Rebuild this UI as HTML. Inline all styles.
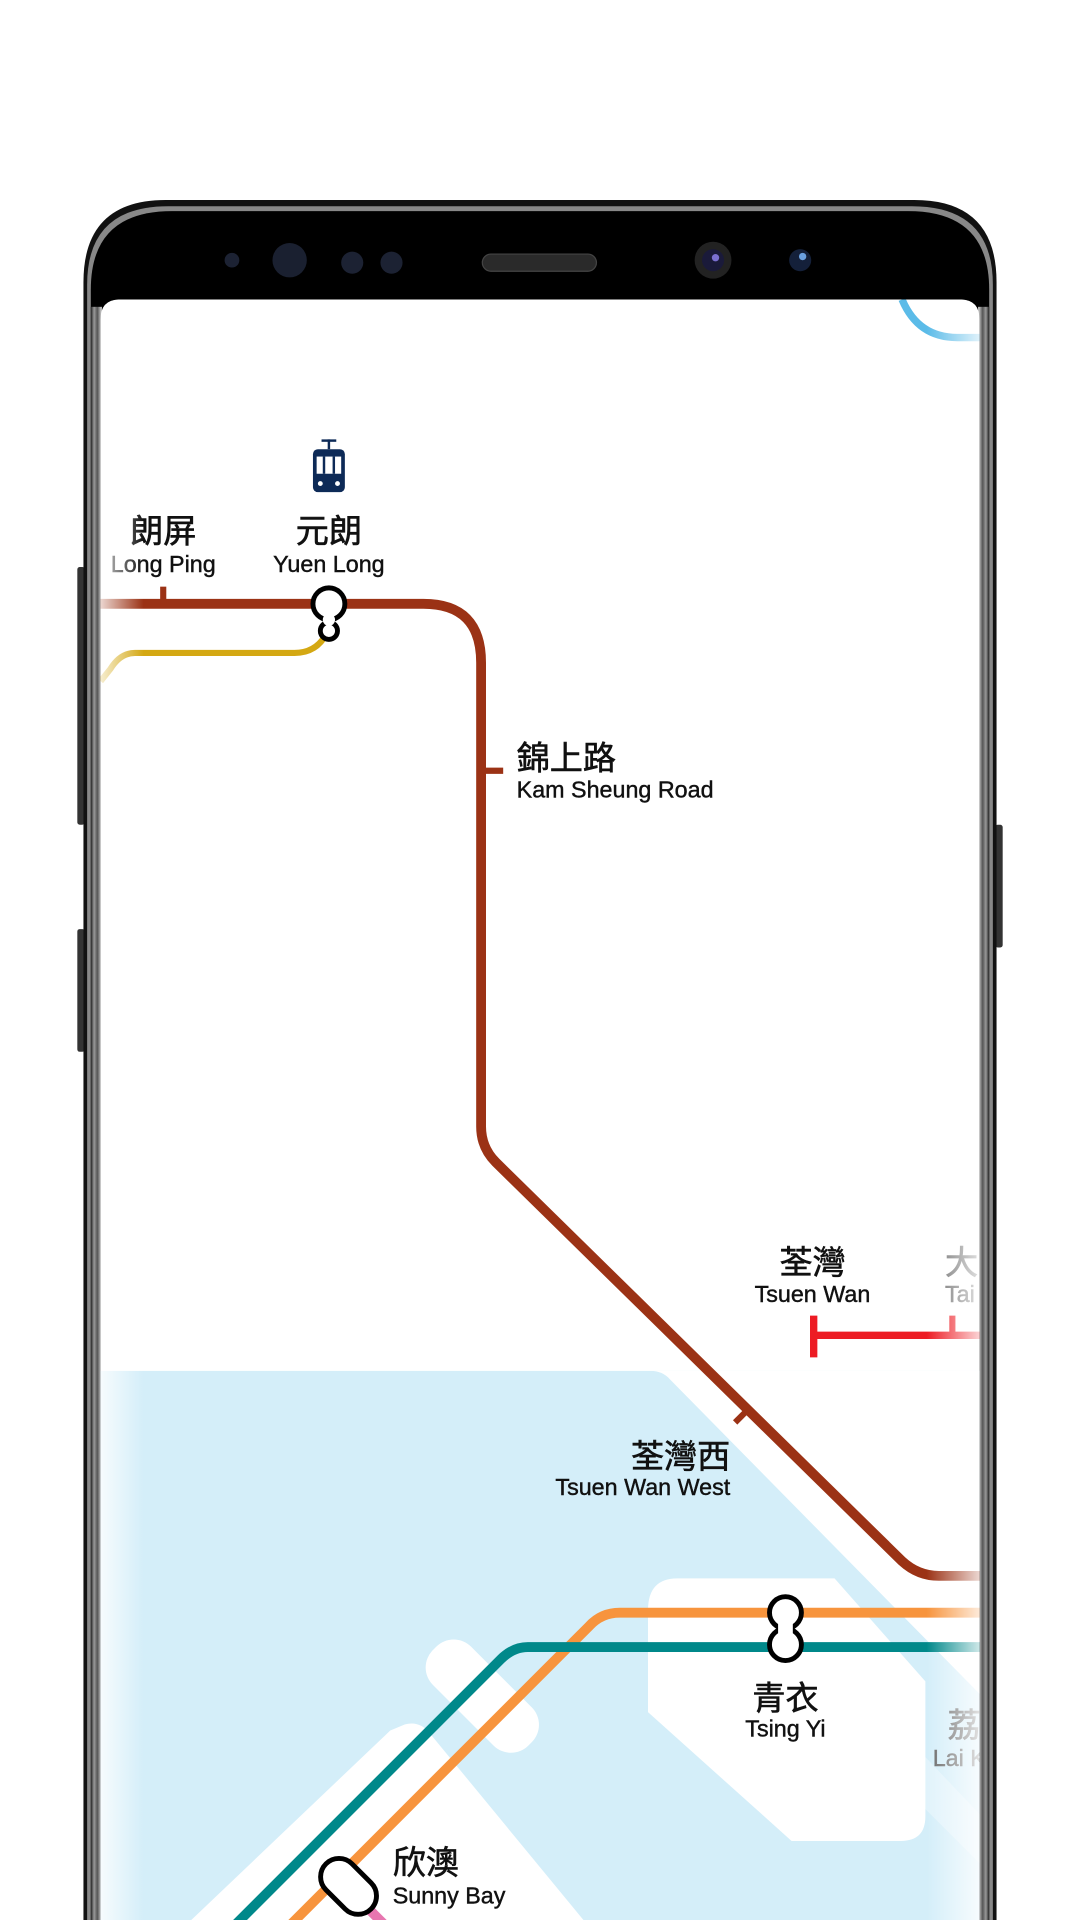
<!DOCTYPE html>
<html><head><meta charset="utf-8"><style>
html,body{margin:0;padding:0;background:#fff;width:1080px;height:1920px;overflow:hidden}
svg{display:block}
.zh{font-family:"Liberation Sans","Noto Sans CJK TC",sans-serif;font-size:27px;fill:#111;stroke:#111;stroke-width:0.5;text-anchor:middle}
.en{font-family:"Liberation Sans","Noto Sans CJK TC",sans-serif;font-size:19px;fill:#111;stroke:#111;stroke-width:0.35;text-anchor:middle}
</style></head><body>
<svg width="1080" height="1920" viewBox="0 0 880 1564.4" preserveAspectRatio="none" xmlns="http://www.w3.org/2000/svg">
<defs>
<linearGradient id="side" x1="0" x2="1">
<stop offset="0" stop-color="#222"/><stop offset="0.3" stop-color="#999"/><stop offset="0.6" stop-color="#555"/><stop offset="1" stop-color="#ddd"/>
</linearGradient>
<linearGradient id="fadeL" x1="0" x2="1">
<stop offset="0" stop-color="#fff" stop-opacity="0.8"/><stop offset="1" stop-color="#fff" stop-opacity="0"/>
</linearGradient>
<linearGradient id="fadeR" x1="0" x2="1">
<stop offset="0" stop-color="#fff" stop-opacity="0"/><stop offset="1" stop-color="#fff" stop-opacity="0.8"/>
</linearGradient>
<clipPath id="scr"><path d="M82 260 Q82 244 98 244 L782 244 Q798 244 798 260 L798 1570 L82 1570 Z"/></clipPath>
</defs>
<rect x="63" y="462" width="6" height="210" rx="2" fill="#333"/>
<rect x="63" y="757" width="6" height="100" rx="2" fill="#333"/>
<rect x="811" y="672" width="6" height="100" rx="2" fill="#333"/>
<path d="M68 1570 L68 230 Q68 163 135 163 L745 163 Q812 163 812 230 L812 1570 Z" fill="#111"/>
<path d="M71 1570 L71 232 Q71 168 137 168 L743 168 Q809 168 809 232 L809 1570 Z" fill="#888"/>
<path d="M74 1570 L74 236 Q74 172 140 172 L740 172 Q806 172 806 236 L806 1570 Z" fill="#000"/>
<rect x="74" y="250" width="9" height="1320" fill="url(#side)"/>
<rect x="797" y="250" width="9" height="1320" fill="url(#side)" transform="translate(1603 0) scale(-1 1)"/>
<circle cx="189" cy="212" r="6" fill="#1c2233"/>
<circle cx="236" cy="212" r="14" fill="#1a2030"/>
<circle cx="287" cy="214" r="9" fill="#1c2233"/>
<circle cx="319" cy="214" r="9" fill="#1c2233"/>
<rect x="393" y="207" width="93" height="14" rx="7" fill="#2a2a2a" stroke="#444" stroke-width="1"/>
<circle cx="581" cy="212" r="15" fill="#222"/><circle cx="581" cy="212" r="9" fill="#1a1a3a"/><circle cx="583" cy="210" r="3" fill="#7a6fd0"/>
<circle cx="652" cy="212" r="9" fill="#14203a"/><circle cx="654" cy="209" r="3" fill="#6aa0e0"/>
<g clip-path="url(#scr)">
<rect x="82" y="244" width="716" height="1330" fill="#fff"/>
<rect x="82" y="1117" width="716" height="460" fill="#d4eef9"/>
<path d="M530 1117 Q540 1117 546 1124 L800 1382 L800 1117 Z" fill="#fff"/>
<path d="M552 1286 L680 1286 L754 1370 L754 1480 Q754 1500 734 1500 L645 1500 L528 1395 L528 1312 Q528 1286 552 1286 Z" fill="#fff"/>
<path d="M700 1420 L800 1520 L800 1480 L705 1380 Z" fill="#fff" opacity="0.3"/>
<g transform="translate(393 1382) rotate(45)"><rect x="-55" y="-22" width="110" height="44" rx="20" fill="#fff"/></g>
<path d="M330 1405 Q342 1402 350 1412 L480 1570 L150 1570 L318 1410 Z" fill="#fff"/>
<path d="M735 244 Q748 275 780 275 L800 275" fill="none" stroke="#5bbbe8" stroke-width="6"/>
<path d="M82 492 L345 492 Q392 492 392 540 L392 918 Q392 935 404 947 L735 1272 Q748 1284 765 1284 L800 1284" fill="none" stroke="#9b3215" stroke-width="8"/>
<line x1="133" y1="478" x2="133" y2="492" stroke="#9b3215" stroke-width="5"/>
<line x1="392" y1="628" x2="410" y2="628" stroke="#9b3215" stroke-width="5"/>
<line x1="607" y1="1151" x2="599" y2="1159" stroke="#9b3215" stroke-width="5"/>
<path d="M268 512 Q260 532 240 532 L110 532 Q98 532 90 545 L82 555" fill="none" stroke="#d4a813" stroke-width="5"/>
<line x1="663" y1="1088" x2="800" y2="1088" stroke="#ed1c24" stroke-width="6"/>
<line x1="663" y1="1072" x2="663" y2="1106" stroke="#ed1c24" stroke-width="6"/>
<line x1="776" y1="1072" x2="776" y2="1088" stroke="#ed1c24" stroke-width="5"/>
<path d="M800 1314 L505 1314 Q490 1314 480 1325 L230 1575" fill="none" stroke="#f7943d" stroke-width="8"/>
<path d="M800 1342 L430 1342 Q418 1342 408 1352 L185 1575" fill="none" stroke="#00888a" stroke-width="8"/>
<line x1="290" y1="1545" x2="320" y2="1575" stroke="#e776b0" stroke-width="8"/>
<g fill="#fff" stroke="#000" stroke-width="4">
<circle cx="268" cy="514" r="7"/>
<circle cx="268" cy="492" r="13"/>
</g>
<circle cx="268" cy="505" r="5" fill="#fff"/>
<g fill="#fff" stroke="#000" stroke-width="4">
<circle cx="640" cy="1340" r="13"/>
<circle cx="640" cy="1314" r="13"/>
</g>
<rect x="634" y="1322" width="12" height="10" fill="#fff"/>
<g transform="translate(284 1537) rotate(45)"><rect x="-26" y="-15" width="52" height="30" rx="15" fill="#fff" stroke="#000" stroke-width="4"/></g>
<g fill="#0d2a57">
<rect x="262" y="358" width="12" height="2"/><rect x="267" y="358" width="2" height="8"/>
<rect x="255" y="366" width="26" height="35" rx="4"/>
<rect x="258" y="372" width="20" height="14" fill="#fff"/>
<rect x="263" y="372" width="2" height="14"/><rect x="271" y="372" width="2" height="14"/>
<circle cx="261" cy="394" r="2" fill="#fff"/><circle cx="275" cy="394" r="2" fill="#fff"/>
</g>
<text class="zh" x="133" y="442">朗屏</text>
<text class="en" x="133" y="466">Long Ping</text>
<text class="zh" x="268" y="442">元朗</text>
<text class="en" x="268" y="466">Yuen Long</text>
<text class="zh" x="421" y="627" style="text-anchor:start">錦上路</text>
<text class="en" x="421" y="650" style="text-anchor:start">Kam Sheung Road</text>
<text class="zh" x="662" y="1038">荃灣</text>
<text class="en" x="662" y="1061">Tsuen Wan</text>
<text class="zh" x="770" y="1038" style="text-anchor:start;fill:#666;stroke:#666">大</text>
<text class="en" x="770" y="1061" style="text-anchor:start;fill:#666;stroke:#666">Tai</text>
<text class="zh" x="595" y="1196" style="text-anchor:end">荃灣西</text>
<text class="en" x="595" y="1218" style="text-anchor:end">Tsuen Wan West</text>
<text class="zh" x="640" y="1393">青衣</text>
<text class="en" x="640" y="1415">Tsing Yi</text>
<text class="zh" x="772" y="1415" style="text-anchor:start;fill:#666;stroke:#666">荔</text>
<text class="en" x="760" y="1439" style="text-anchor:start;fill:#666;stroke:#666">Lai K</text>
<text class="zh" x="320" y="1527" style="text-anchor:start">欣澳</text>
<text class="en" x="320" y="1551" style="text-anchor:start">Sunny Bay</text>
<rect x="82" y="244" width="35" height="1330" fill="url(#fadeL)"/>
<rect x="755" y="244" width="43" height="1330" fill="url(#fadeR)"/>
</g>
</svg>
</body></html>
